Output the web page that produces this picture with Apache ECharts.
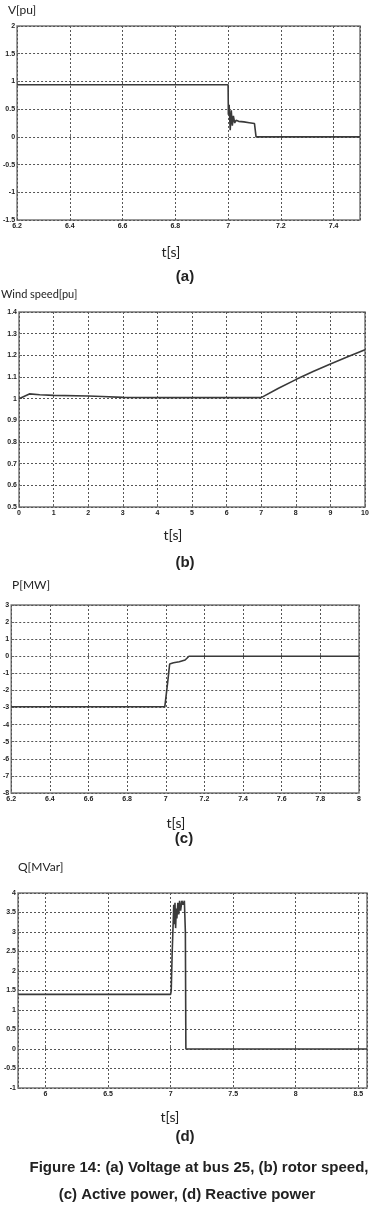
<!DOCTYPE html>
<html>
<head>
<meta charset="utf-8">
<script src="https://cdn.jsdelivr.net/npm/echarts@6/dist/echarts.min.js"></script>
<style>
  html, body { margin: 0; padding: 0; background: #fff; }
  #fig { width: 377px; height: 1212px; }
</style>
</head>
<body>
<div id="fig"></div>
<script>
// (a) voltage at bus 25
var aTime = [6.2, 7.0, 7.001, 7.004, 7.008, 7.012, 7.016, 7.020, 7.025, 7.03, 7.04, 7.06, 7.08, 7.1, 7.105, 7.106, 7.5];
var aVolt = [0.94, 0.94, 0.4, 0.58, 0.12, 0.48, 0.2, 0.38, 0.25, 0.3, 0.28, 0.27, 0.255, 0.24, 0.24, 0.0, 0.0];
// (b) wind speed
var bTime = [0, 0.3, 0.6, 1, 2, 2.4, 3, 4, 5, 6, 7, 7.5, 8, 8.5, 9, 9.5, 10];
var bSpeed = [1.0, 1.022, 1.018, 1.015, 1.012, 1.01, 1.006, 1.005, 1.005, 1.005, 1.005, 1.048, 1.088, 1.125, 1.16, 1.193, 1.226];
// (c) active power
var cTime = [6.2, 6.995, 7.0, 7.01, 7.02, 7.04, 7.07, 7.1, 7.12, 8];
var cPower = [-2.95, -2.95, -2.9, -1.5, -0.45, -0.38, -0.32, -0.22, 0, 0];
// (d) reactive power
var dTime = [5.78, 7.0, 7.005, 7.012, 7.02, 7.025, 7.03, 7.035, 7.04, 7.045, 7.05, 7.058, 7.065, 7.072, 7.08, 7.09, 7.1, 7.11, 7.118, 7.122, 8.57];
var dReactive = [1.4, 1.4, 1.5, 2.4, 3.2, 3.7, 3.2, 3.75, 3.1, 3.6, 3.35, 3.75, 3.45, 3.8, 3.55, 3.8, 3.7, 3.8, 3.0, 0.0, 0.0];

function pairs(t, v) {
  return t.map(function (x, i) { return [x, v[i]]; });
}

var labelStyle = { fontFamily: 'Liberation Sans', fontSize: 7, fontWeight: 'bold', color: '#222' };
var gridLine = { show: true, lineStyle: { color: '#555', type: [2, 2], width: 1 } };

function xAx(idx, min, max, interval, hideEnds) {
  var ax = {
    type: 'value', gridIndex: idx, min: min, max: max,
    axisLine: { show: false },
    axisTick: { show: true, inside: true, length: 3, lineStyle: { color: '#666' } },
    axisLabel: Object.assign({ margin: 3 }, labelStyle),
    splitLine: gridLine
  };
  if (interval) ax.interval = interval;
  if (hideEnds) {
    ax.axisLabel.showMaxLabel = false;
    if (!interval) ax.axisLabel.showMinLabel = false;
  }
  return ax;
}
function yAx(idx, min, max, interval) {
  return {
    type: 'value', gridIndex: idx, min: min, max: max, interval: interval,
    axisLine: { show: false },
    axisTick: { show: true, inside: true, length: 3, lineStyle: { color: '#666' } },
    axisLabel: Object.assign({ margin: 2 }, labelStyle),
    splitLine: gridLine
  };
}
function line(idx, data) {
  return {
    type: 'line', xAxisIndex: idx, yAxisIndex: idx, data: data,
    showSymbol: false, animation: false,
    lineStyle: { color: '#3a3a3a', width: 1.6 }
  };
}
function txt(x, y, s, font, align) {
  return {
    type: 'text', silent: true,
    style: { x: x, y: y, text: s, font: font, fill: '#222', textAlign: align || 'left', textVerticalAlign: 'middle' }
  };
}

var chart = echarts.init(document.getElementById('fig'));
chart.setOption({
  backgroundColor: '#fff',
  animation: false,
  grid: [
    { left: 17, top: 26, width: 343, height: 194, show: true, borderColor: '#777', borderWidth: 1.5 },
    { left: 19, top: 312, width: 346, height: 195, show: true, borderColor: '#777', borderWidth: 1.5 },
    { left: 11, top: 605, width: 348, height: 188, show: true, borderColor: '#777', borderWidth: 1.5 },
    { left: 18, top: 893, width: 349, height: 195, show: true, borderColor: '#777', borderWidth: 1.5 }
  ],
  xAxis: [
    xAx(0, 6.2, 7.5, 0.2, true),
    xAx(1, 0, 10, 1, false),
    xAx(2, 6.2, 8, 0.2, false),
    xAx(3, 5.78, 8.57, null, true)
  ],
  yAxis: [
    yAx(0, -1.5, 2, 0.5),
    yAx(1, 0.5, 1.4, 0.1),
    yAx(2, -8, 3, 1),
    yAx(3, -1, 4, 0.5)
  ],
  series: [
    line(0, pairs(aTime, aVolt)),
    line(1, pairs(bTime, bSpeed)),
    line(2, pairs(cTime, cPower)),
    line(3, pairs(dTime, dReactive))
  ],
  graphic: [
    txt(8, 10, 'V[pu]', '12px Lato'),
    txt(171, 252, 't[s]', '14px Lato', 'center'),
    txt(185, 277, '(a)', 'bold 15px "Liberation Sans"', 'center'),
    txt(1, 294, 'Wind speed[pu]', '11px Lato'),
    txt(173, 535, 't[s]', '14px Lato', 'center'),
    txt(185, 563, '(b)', 'bold 15px "Liberation Sans"', 'center'),
    txt(12, 585, 'P[MW]', '12px Lato'),
    txt(176, 823, 't[s]', '14px Lato', 'center'),
    txt(184, 839, '(c)', 'bold 15px "Liberation Sans"', 'center'),
    txt(18, 867, 'Q[MVar]', '12px Lato'),
    txt(170, 1117, 't[s]', '14px Lato', 'center'),
    txt(185, 1137, '(d)', 'bold 15px "Liberation Sans"', 'center'),
    txt(199, 1168, 'Figure 14: (a) Voltage at bus 25, (b) rotor speed,', 'bold 15px "Liberation Sans"', 'center'),
    txt(187, 1195, '(c) Active power, (d) Reactive power', 'bold 15px "Liberation Sans"', 'center')
  ]
});
</script>
</body>
</html>
